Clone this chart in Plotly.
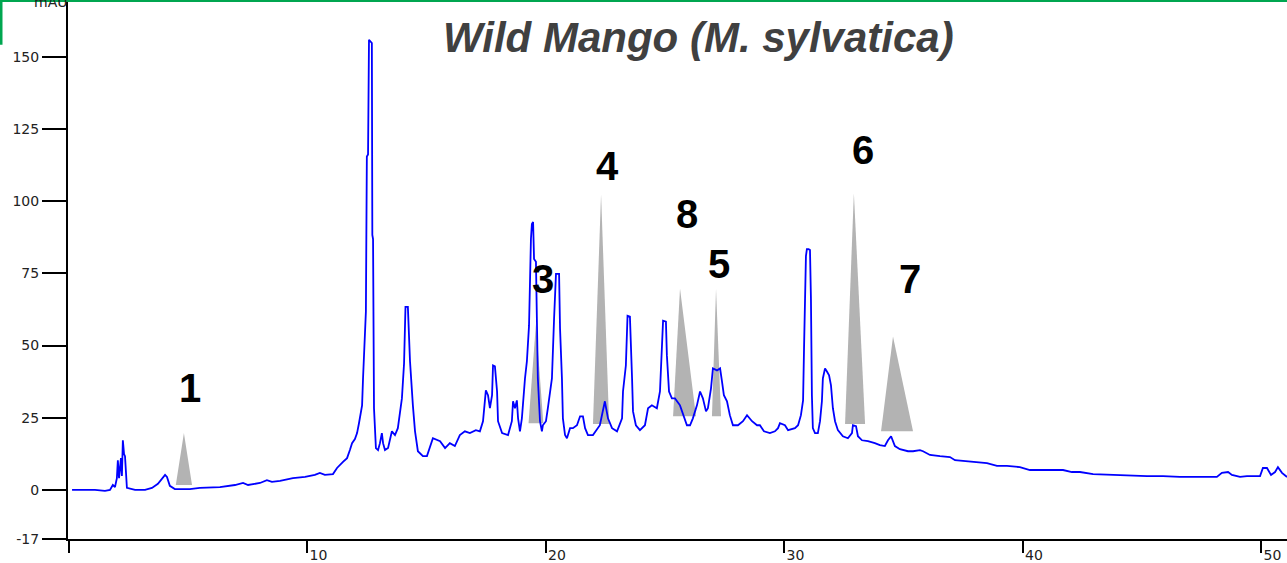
import plotly.graph_objects as go

# Chromatogram: retention time (min) and absorbance (mAU)
time_min = [0.13, 1.09, 1.51, 1.72, 1.84, 1.93, 2.01, 2.05, 2.10, 2.18, 2.22, 2.26, 2.31, 2.35, 2.43,
            2.77, 3.19, 3.48, 3.73, 3.94, 4.03, 4.11, 4.23, 4.44, 5.07, 5.49, 6.33, 6.96, 7.30, 7.51,
            8.01, 8.30, 8.51, 8.85, 9.39, 9.90, 10.31, 10.52, 10.73, 11.07, 11.24, 11.49, 11.66, 11.78,
            11.87, 11.99, 12.08, 12.16, 12.20, 12.29, 12.33, 12.41, 12.45, 12.49, 12.54, 12.58, 12.66,
            12.70, 12.72, 12.75, 12.79, 12.87, 12.96, 13.04, 13.12, 13.17, 13.25, 13.38, 13.54, 13.67,
            13.79, 13.96, 14.05, 14.11, 14.21, 14.30, 14.42, 14.51, 14.63, 14.84, 15.01, 15.14, 15.26,
            15.56, 15.77, 15.97, 16.18, 16.39,
            16.60, 16.81, 17.06, 17.23, 17.36, 17.48, 17.57, 17.65, 17.74, 17.78, 17.86, 17.95, 17.99,
            18.16, 18.41, 18.57, 18.62, 18.70, 18.78, 18.83, 18.91, 18.99, 19.04, 19.12, 19.20, 19.29,
            19.37, 19.41, 19.46, 19.50, 19.58, 19.62, 19.66, 19.75, 19.83, 19.87, 20.00, 20.08, 20.25,
            20.34, 20.42, 20.55, 20.59, 20.67, 20.71, 20.80, 20.88, 21.01, 21.13, 21.30, 21.43, 21.55,
            21.64, 21.76, 21.97, 22.26, 22.47, 22.60, 22.77, 22.98, 23.19, 23.23, 23.35, 23.42, 23.52,
            23.61, 23.65, 23.77, 23.94, 24.15, 24.28, 24.44, 24.65, 24.78, 24.86, 24.91, 25.03, 25.07,
            25.16, 25.28, 25.41, 25.62, 25.91, 26.04, 26.16, 26.33, 26.46, 26.58, 26.71, 26.79, 26.92,
            27.00, 27.17, 27.30, 27.38, 27.46, 27.59, 27.71, 27.84, 28.05, 28.26, 28.43, 28.64, 28.85,
            28.97, 29.14, 29.39, 29.60, 29.73,
            29.81, 30.02, 30.15, 30.44, 30.57, 30.69, 30.78, 30.82, 30.90, 30.94, 31.01, 31.07, 31.11,
            31.15, 31.19, 31.28, 31.40, 31.49, 31.57, 31.61, 31.70, 31.78, 31.87, 31.95, 32.03, 32.12,
            32.24, 32.45, 32.66, 32.83, 32.87, 33.00, 33.08, 33.25, 33.50, 33.79, 34.00, 34.21, 34.34,
            34.47, 34.55, 34.63, 34.84, 35.18, 35.39, 35.68, 35.81, 36.10, 36.52, 36.94, 37.15, 37.65,
            38.07, 38.49, 38.91, 39.33, 39.87, 40.29, 41.01, 41.68, 42.05, 42.39, 42.94, 43.77, 44.61,
            45.20, 45.87, 46.58, 47.30, 48.13, 48.34, 48.60, 48.76, 49.10, 49.39, 49.94, 50.06, 50.23,
            50.40, 50.57, 50.69, 50.86, 51.07]

mau = [0.0, 0.0, -0.3, 0.0, 1.7, 1.0, 4.1, 10.3, 4.1, 11.0, 4.8, 17.2, 12.4, 11.7, 0.7,
       0.0, 0.0, 0.7, 2.1, 4.1, 5.2, 4.5, 1.4, 0.3, 0.3, 0.7, 1.0, 1.7, 2.4, 1.7,
       2.4, 3.4, 2.8, 3.1, 4.1, 4.5, 5.2, 5.9, 5.2, 5.5, 7.6, 9.7, 11.0, 13.8,
       16.2, 17.6, 19.7, 23.1, 24.8, 29.3, 38.6, 55.9, 61.7, 115.5, 116.2, 155.9, 155.2,
       154.8, 88.3, 86.9, 28.3, 14.5, 13.8, 16.2, 19.7, 16.2, 13.8, 14.5, 20.3, 19.0,
       21.4, 31.7, 43.8, 63.4, 63.4, 44.5, 29.3, 20.3, 13.4, 11.7, 11.7, 15.2, 17.9,
       16.9, 14.5, 16.2, 15.2, 19.0,
       20.3, 19.7, 20.7, 20.3, 23.8, 34.5, 32.8, 28.3, 32.8, 43.1, 42.8, 34.1, 23.8,
       19.7, 19.0, 23.8, 30.7, 28.3, 31.0, 24.8, 20.3, 24.8, 31.7, 38.6, 44.5, 56.9,
       86.9, 92.1, 92.8, 80.0, 79.0, 61.7, 38.6, 23.8, 20.3, 22.4, 23.8, 28.3, 38.6,
       59.3, 74.8, 74.8, 55.9, 38.6, 24.8, 19.0, 17.9, 21.4, 21.4, 22.4, 25.5, 25.5,
       21.4, 19.0, 19.0, 22.4, 30.7, 24.8, 21.4, 20.3, 24.8, 34.1, 43.1, 60.3, 60.0,
       38.6, 27.2, 22.4, 20.7, 22.4, 28.3, 29.3, 28.3, 34.1, 50.0, 58.6, 58.3, 46.6,
       34.1, 31.7, 31.7, 29.3, 22.4, 22.4, 24.8, 29.3, 34.1, 31.7, 27.2, 28.3, 35.2,
       42.1, 41.4, 42.1, 37.6, 32.8, 30.7, 25.9, 22.4, 22.4, 23.8, 25.9, 23.8, 22.4,
       22.4, 20.3, 19.7, 20.3, 21.4,
       23.1, 22.4, 20.7, 21.4, 22.4, 25.9, 31.0, 49.0, 81.0, 83.4, 83.4, 83.1, 66.2,
       32.8, 21.4, 19.7, 19.7, 23.8, 30.7, 38.6, 42.1, 41.0, 39.7, 36.2, 28.3, 23.8,
       20.7, 18.6, 17.9, 19.7, 22.4, 22.1, 18.6, 17.2, 16.9, 16.2, 15.5, 15.2, 17.2,
       18.6, 17.2, 15.2, 14.1, 13.4, 13.4, 13.8, 13.4, 12.1, 11.7, 11.4, 10.3, 10.0,
       9.7, 9.3, 8.3, 8.3, 7.9, 6.9, 6.9, 6.9, 6.2, 6.2, 5.5, 5.2, 4.8,
       4.8, 4.8, 4.5, 4.5, 4.5, 5.9, 6.2, 5.2, 4.5, 4.8, 4.8, 7.6, 7.6,
       5.2, 6.2, 7.9, 5.9, 4.5]

# Peak markers (grey triangles) and their numbers
peak_labels = ["1", "3", "4", "8", "5", "6", "7"]
tri_apex_time = [4.82, 19.58, 22.31, 25.62, 27.13, 32.91, 34.55]
tri_apex_mau = [19.7, 57.6, 102.4, 69.7, 69.7, 102.8, 53.1]
tri_left_time = [4.48, 19.27, 21.97, 25.33, 26.96, 32.54, 34.05]
tri_right_time = [5.16, 19.89, 22.65, 26.29, 27.34, 33.38, 35.39]
tri_base_mau = [1.7, 23.1, 22.8, 25.5, 25.5, 22.8, 20.3]
label_time = [5.07, 19.87, 22.56, 25.91, 27.25, 33.29, 35.26]
label_mau = [35.2, 73.1, 112.1, 95.5, 78.3, 117.9, 73.1]

x_tick_vals = [0, 10, 20, 30, 40, 50]
x_tick_text = ["", "10", "20", "30", "40", "50"]
y_tick_vals = [-17, 0, 25, 50, 75, 100, 125, 150]
y_tick_text = ["-17", "0", "25", "50", "75", "100", "125", "150"]

fig = go.Figure()

for i in range(len(peak_labels)):
    fig.add_trace(go.Scatter(
        x=[tri_left_time[i], tri_apex_time[i], tri_right_time[i], tri_left_time[i]],
        y=[tri_base_mau[i], tri_apex_mau[i], tri_base_mau[i], tri_base_mau[i]],
        mode="lines", fill="toself", fillcolor="#b3b3b3",
        line=dict(width=0, color="#b3b3b3"), hoverinfo="skip"))

fig.add_trace(go.Scatter(x=time_min, y=mau, mode="lines",
                         line=dict(color="#0000ff", width=1.8)))

for i, lab in enumerate(peak_labels):
    fig.add_annotation(x=label_time[i], y=label_mau[i], text="<b>" + lab + "</b>",
                       showarrow=False, font=dict(family="Arial", size=40, color="black"))

L, R, T, B = 68, 0, 0, 21
W, H = 1287, 563
pw, ph = W - L - R, H - T - B

fig.add_annotation(xref="paper", yref="paper", x=0.517, y=1 - 38 / ph, yanchor="middle",
                   text="<b><i>Wild Mango (M. sylvatica)</i></b>", showarrow=False,
                   font=dict(family="Arial", size=42, color="#404040"))
fig.add_annotation(xref="paper", yref="paper", x=(32 - L) / pw, y=1 - 2 / ph, yanchor="middle",
                   text="mAU", showarrow=False,
                   font=dict(family="DejaVu Sans", size=14, color="#222"))

fig.add_shape(type="line", xref="paper", yref="paper", x0=-L / pw, x1=1, y0=1, y1=1,
              line=dict(color="#00a650", width=4))
fig.add_shape(type="line", xref="paper", yref="paper", x0=(1 - L) / pw, x1=(1 - L) / pw,
              y0=1, y1=1 - 45 / ph, line=dict(color="#00a650", width=3))

fig.update_layout(
    width=W, height=H, margin=dict(l=L, r=R, t=T, b=B),
    plot_bgcolor="white", paper_bgcolor="white", showlegend=False,
    xaxis=dict(range=[-0.04, 51.07], tickvals=x_tick_vals, ticktext=x_tick_text,
               ticks="outside", ticklen=12, tickwidth=2, tickcolor="black",
               showline=True, linecolor="black", linewidth=2, showgrid=False, zeroline=False,
               ticklabelshift=11, ticklabelstandoff=-10,
               tickfont=dict(family="DejaVu Sans", size=14, color="#222")),
    yaxis=dict(range=[-17, 169.7], tickvals=y_tick_vals, ticktext=y_tick_text,
               ticks="outside", ticklen=24, tickwidth=2, tickcolor="black",
               showline=True, linecolor="black", linewidth=2, showgrid=False, zeroline=False,
               tickfont=dict(family="DejaVu Sans", size=14, color="#222")),
)

fig.write_html("out.html", config={"displayModeBar": False},
               post_script="document.body.style.margin='0';")
